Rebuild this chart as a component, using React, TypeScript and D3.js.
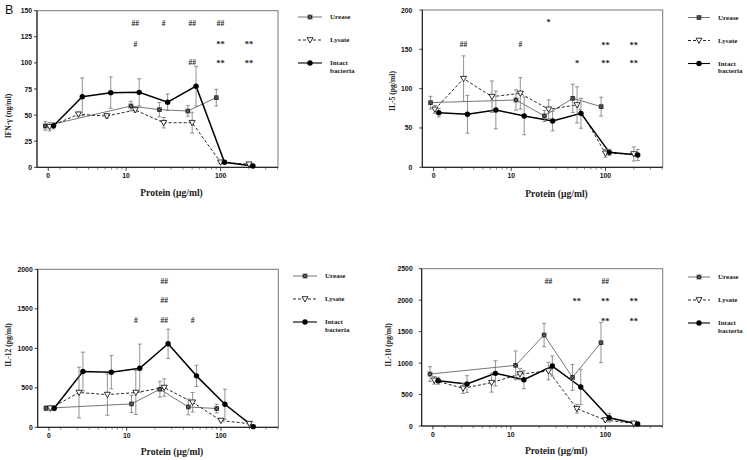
import React from "react";
import * as d3 from "d3";

// ---------- data ----------
const SERIES_NAMES = ["Urease", "Lysate", "Intact bacteria"];
const UREASE_DOSES = [0, 12.5, 25, 50, 100];
const LYSATE_DOSES = [0, 3.125, 6.25, 12.5, 25, 50, 100, 200];
const INTACT_DOSES = [0, 3.125, 6.25, 12.5, 25, 50, 100, 200];
const X_TICK_VALUES = ["0", "10", "100"];

const IFN_UREASE = [39.6, 58.7, 55.2, 53.9, 66.7];
const IFN_UREASE_ERR = [4, 4.5, 7, 5, 8];
const IFN_LYSATE = [38.9, 50.8, 49.1, 54.9, 42.7, 42.7, 4.8, 2.9];
const IFN_LYSATE_ERR = [4, 2, 2, 2, 5, 10, 1, 1];
const IFN_INTACT = [39.8, 67.6, 71.5, 71.8, 62.3, 77.7, 4.8, 1.2];
const IFN_INTACT_ERR = [3, 18, 15, 13, 8, 19, 1, 0.5];
const IFN_TICKS = [0, 25, 50, 75, 100, 125, 150];

const IL5_UREASE = [82.2, 85.6, 65.3, 87.7, 77.1];
const IL5_UREASE_ERR = [8, 13, 7, 18, 12];
const IL5_LYSATE = [73.7, 112.7, 89.8, 94, 73.7, 79.3, 17.8, 16.9];
const IL5_LYSATE_ERR = [5, 29, 20, 20, 12, 23, 5, 9];
const IL5_INTACT = [69.5, 67.4, 72.9, 65.3, 58.9, 68.6, 19, 15.7];
const IL5_INTACT_ERR = [5.5, 24, 24, 24, 12.5, 19, 4, 7];
const IL5_TICKS = [0, 50, 100, 150, 200];

const IL12_UREASE = [241, 296, 482, 258, 237];
const IL12_UREASE_ERR = [30, 110, 100, 100, 55];
const IL12_LYSATE = [241, 440, 414, 440, 503, 317, 85, 46];
const IL12_LYSATE_ERR = [30, 320, 262, 278, 110, 123, 10, 10];
const IL12_INTACT = [241, 706, 697, 748, 1057, 651, 292, 8];
const IL12_INTACT_ERR = [30, 245, 210, 305, 185, 135, 190, 5];
const IL12_TICKS = [0, 500, 1000, 1500, 2000];

const IL10_UREASE = [826, 964, 1446, 773, 1324];
const IL10_UREASE_ERR = [117, 228, 185, 207, 318];
const IL10_LYSATE = [726, 598, 689, 826, 874, 275, 95, 42];
const IL10_LYSATE_ERR = [60, 80, 150, 90, 140, 70, 30, 10];
const IL10_INTACT = [720, 667, 837, 736, 953, 620, 132, 32];
const IL10_INTACT_ERR = [55, 133, 200, 143, 160, 280, 70, 15];
const IL10_TICKS = [0, 500, 1000, 1500, 2000, 2500];

// significance marks: [dose, y value, text]
const IFN_MARKS: [number, number, string][] = [
  [12.5, 138, "##"], [25, 138, "#"], [50, 138, "##"], [100, 138, "##"],
  [12.5, 118, "#"], [100, 118, "**"], [200, 118, "**"],
  [50, 100, "##"], [100, 100, "**"], [200, 100, "**"],
];
const IL5_MARKS: [number, number, string][] = [
  [25, 185, "*"],
  [3.125, 156, "##"], [12.5, 156, "#"], [100, 156, "**"], [200, 156, "**"],
  [50, 132, "*"], [100, 132, "**"], [200, 132, "**"],
];
const IL12_MARKS: [number, number, string][] = [
  [25, 1843, "##"], [25, 1599, "##"],
  [12.5, 1349, "#"], [25, 1349, "##"], [50, 1349, "#"],
];
const IL10_MARKS: [number, number, string][] = [
  [25, 2294, "##"], [100, 2294, "##"],
  [50, 1987, "**"], [100, 1987, "**"], [200, 1987, "**"],
  [100, 1674, "**"], [200, 1674, "**"],
];

// ---------- layout / style ----------
const SERIF = "'Liberation Serif', 'Times New Roman', serif";
const SANS = "'Liberation Sans', Arial, sans-serif";
const X_MIN = 1.14;
const X_MAX = 405;
const ZERO_POS = 1.55; // where dose 0 is drawn on the log axis
const ZERO_TICK = 1.5;
const X_TICK_POS = [ZERO_TICK, 10, 100];
const SERIES_OFFSET = [0.9, 1.0, 1.1];

type Panel = {
  left: number; top: number; width: number; height: number;
  yMax: number; yTicks: number[]; yLabel: string; yLabelX: number; yLabelY: number;
  tickPad: number; xTitleY: number;
  legendX: number; legendY: number; legendLen: number;
  values: number[][]; errors: number[][];
  marks: [number, number, string][];
};

const PANELS: Panel[] = [
  {
    left: 37, top: 10.7, width: 241, height: 156.6, yMax: 150, yTicks: IFN_TICKS,
    yLabel: "IFN-γ (ng/ml)", yLabelX: 8, yLabelY: 116, tickPad: 5, xTitleY: 192,
    legendX: 298, legendY: 17, legendLen: 24,
    values: [IFN_UREASE, IFN_LYSATE, IFN_INTACT],
    errors: [IFN_UREASE_ERR, IFN_LYSATE_ERR, IFN_INTACT_ERR],
    marks: IFN_MARKS,
  },
  {
    left: 422.3, top: 10, width: 240.4, height: 157.3, yMax: 200, yTicks: IL5_TICKS,
    yLabel: "IL-5 (pg/ml)", yLabelX: 392, yLabelY: 91, tickPad: 10, xTitleY: 193,
    legendX: 688, legendY: 17.5, legendLen: 22,
    values: [IL5_UREASE, IL5_LYSATE, IL5_INTACT],
    errors: [IL5_UREASE_ERR, IL5_LYSATE_ERR, IL5_INTACT_ERR],
    marks: IL5_MARKS,
  },
  {
    left: 37.7, top: 269.3, width: 240.6, height: 158, yMax: 2000, yTicks: IL12_TICKS,
    yLabel: "IL-12 (pg/ml)", yLabelX: 8, yLabelY: 345, tickPad: 5, xTitleY: 451,
    legendX: 293, legendY: 276, legendLen: 24,
    values: [IL12_UREASE, IL12_LYSATE, IL12_INTACT],
    errors: [IL12_UREASE_ERR, IL12_LYSATE_ERR, IL12_INTACT_ERR],
    marks: IL12_MARKS,
  },
  {
    left: 421.7, top: 268.7, width: 241, height: 157.3, yMax: 2500, yTicks: IL10_TICKS,
    yLabel: "IL-10 (pg/ml)", yLabelX: 388, yLabelY: 345, tickPad: 9, xTitleY: 450,
    legendX: 688, legendY: 277, legendLen: 22,
    values: [IL10_UREASE, IL10_LYSATE, IL10_INTACT],
    errors: [IL10_UREASE_ERR, IL10_LYSATE_ERR, IL10_INTACT_ERR],
    marks: IL10_MARKS,
  },
];

const SERIES_DOSES = [UREASE_DOSES, LYSATE_DOSES, INTACT_DOSES];
const LINE_STYLE = [
  { stroke: "#666", width: 0.9, dash: undefined as string | undefined },
  { stroke: "#111", width: 0.9, dash: "3,2" },
  { stroke: "#000", width: 1.5, dash: undefined as string | undefined },
];

function Marker({ kind, x, y }: { kind: number; x: number; y: number }) {
  if (kind === 0) {
    const s = 2.3;
    return (
      <g>
        <rect x={x - s} y={y - s} width={2 * s} height={2 * s} fill="#222" />
        <path d={`M${x - s},${y - s}L${x + s},${y + s}M${x + s},${y - s}L${x - s},${y + s}`} stroke="#999" strokeWidth={0.6} />
      </g>
    );
  }
  if (kind === 1) {
    return (
      <path d={`M${x - 3},${y - 2.3}L${x + 3},${y - 2.3}L${x},${y + 3}Z`} fill="#fff" stroke="#000" strokeWidth={0.8} />
    );
  }
  return <circle cx={x} cy={y} r={2.7} fill="#000" />;
}

function PanelView({ p }: { p: Panel }) {
  const x = d3.scaleLog().domain([X_MIN, X_MAX]).range([p.left, p.left + p.width]);
  const y = d3.scaleLinear().domain([0, p.yMax]).range([p.top + p.height, p.top]);
  const bottom = p.top + p.height;
  const minor: number[] = [];
  [1, 10, 100].forEach((dec) => {
    for (let k = 2; k <= 9; k++) {
      const v = k * dec;
      if (v > X_MIN && v < X_MAX && v !== 10 && v !== 100) minor.push(v);
    }
  });
  const line = d3.line<[number, number]>().x((d) => d[0]).y((d) => d[1]);
  const seriesPts = p.values.map((vals, si) =>
    vals.map((v, i) => {
      const dose = SERIES_DOSES[si][i];
      const px = x((dose === 0 ? ZERO_POS : dose) * SERIES_OFFSET[si]);
      const e = p.errors[si][i];
      return { px, py: y(v), top: y(v + e), bot: y(Math.max(0, v - e)) };
    })
  );
  return (
    <g>
      {/* frame */}
      <rect x={p.left} y={p.top} width={p.width} height={p.height} fill="none" stroke="#777" strokeWidth={1} />
      <line x1={p.left} x2={p.left} y1={p.top} y2={bottom} stroke="#111" strokeWidth={1} />
      <line x1={p.left} x2={p.left + p.width} y1={bottom} y2={bottom} stroke="#111" strokeWidth={1} />
      {/* y ticks */}
      {p.yTicks.map((t) => (
        <g key={"y" + t}>
          <line x1={p.left - 3} x2={p.left} y1={y(t)} y2={y(t)} stroke="#111" strokeWidth={0.8} />
          <text x={p.left - p.tickPad} y={y(t)} textAnchor="end" dominantBaseline="central"
            fontFamily={SANS} fontWeight="bold" fontSize={6.8} fill="#111">{t}</text>
        </g>
      ))}
      {/* x ticks */}
      {X_TICK_POS.map((t, i) => (
        <g key={"x" + t}>
          <line x1={x(t)} x2={x(t)} y1={bottom} y2={bottom + 3.5} stroke="#111" strokeWidth={0.8} />
          <text x={x(t)} y={bottom + 8} textAnchor="middle" dominantBaseline="central"
            fontFamily={SANS} fontWeight="bold" fontSize={6.8} fill="#111">{X_TICK_VALUES[i]}</text>
        </g>
      ))}
      {minor.map((t) => (
        <line key={"m" + t} x1={x(t)} x2={x(t)} y1={bottom} y2={bottom + 2.2} stroke="#333" strokeWidth={0.6} />
      ))}
      {/* axis titles */}
      <text x={p.left + p.width / 2 + 14} y={p.xTitleY} textAnchor="middle" dominantBaseline="central"
        fontFamily={SERIF} fontWeight="bold" fontSize={9.6} fill="#222">Protein (μg/ml)</text>
      <text transform={`translate(${p.yLabelX},${p.yLabelY}) rotate(-90)`} textAnchor="middle" dominantBaseline="central"
        fontFamily={SERIF} fontWeight="bold" fontSize={7.6} fill="#222">{p.yLabel}</text>
      {/* lines */}
      {seriesPts.map((pts, si) => (
        <path key={"l" + si} d={line(pts.map((q) => [q.px, q.py]) as [number, number][]) || ""}
          fill="none" stroke={LINE_STYLE[si].stroke} strokeWidth={LINE_STYLE[si].width}
          strokeDasharray={LINE_STYLE[si].dash} />
      ))}
      {/* error bars */}
      {seriesPts.map((pts, si) =>
        pts.map((q, i) => (
          <g key={"e" + si + "-" + i} stroke="#777" strokeWidth={0.8}>
            <line x1={q.px} x2={q.px} y1={q.top} y2={q.bot} />
            <line x1={q.px - 2} x2={q.px + 2} y1={q.top} y2={q.top} />
            <line x1={q.px - 2} x2={q.px + 2} y1={q.bot} y2={q.bot} />
          </g>
        ))
      )}
      {/* markers */}
      {seriesPts.map((pts, si) =>
        pts.map((q, i) => <Marker key={"p" + si + "-" + i} kind={si} x={q.px} y={q.py} />)
      )}
      {/* significance marks */}
      {p.marks.map(([dose, v, txt], i) => (
        <text key={"s" + i} x={x(dose)} y={y(v)} textAnchor="middle" dominantBaseline="central"
          fontFamily={SERIF} fontWeight="bold" fontSize={txt.includes("*") ? 8.5 : 7.5} fill="#222">{txt}</text>
      ))}
      {/* legend */}
      {SERIES_NAMES.map((name, si) => {
        const ly = p.legendY + si * 23;
        const x0 = p.legendX;
        const x1 = p.legendX + p.legendLen;
        return (
          <g key={"lg" + si}>
            <line x1={x0} x2={x1} y1={ly} y2={ly} stroke={LINE_STYLE[si].stroke}
              strokeWidth={si === 2 ? 1.1 : LINE_STYLE[si].width} strokeDasharray={LINE_STYLE[si].dash} />
            <Marker kind={si} x={(x0 + x1) / 2} y={ly} />
            {name.split(" ").map((w, wi) => (
              <text key={w} x={x1 + 8} y={ly + wi * 7.5} dominantBaseline="central"
                fontFamily={SERIF} fontWeight="bold" fontSize={7} fill="#222">{w}</text>
            ))}
          </g>
        );
      })}
    </g>
  );
}

export default function App() {
  return (
    <svg width={747} height={460} viewBox="0 0 747 460"
      style={{ position: "absolute", left: 0, top: 0, background: "#fff" }}>
      <rect x={0} y={0} width={747} height={460} fill="#fff" />
      <text x={5} y={14} fontFamily={SANS} fontSize={12.5} fill="#111">B</text>
      {PANELS.map((p, i) => <PanelView key={i} p={p} />)}
    </svg>
  );
}
